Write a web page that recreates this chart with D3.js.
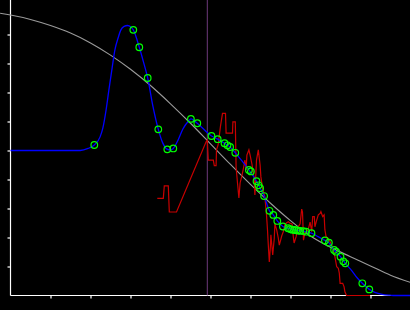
<!DOCTYPE html>
<html>
<head>
<meta charset="utf-8">
<script src="https://cdn.jsdelivr.net/npm/d3@7"></script>
<style>
  body { margin: 0; background: #000; }
  svg { display: block; }
</style>
</head>
<body>
<div id="chart"></div>
<script>
// values (no labels, so units are tick steps)
const xTicks = [1, 2, 3, 4, 5, 6, 7, 8, 9]
const yTicks = [1, 2, 3, 4, 5, 6, 7, 8, 9]

const cursorX = 4.92

// smooth grey fit
const fitX = [-0.26, 0, 0.5, 1, 1.5, 2, 2.5, 3, 3.5, 4, 4.5, 5, 5.5, 6, 6.5, 7, 7.5, 8, 8.5, 9, 9.5, 10]
const fitY = [9.73, 9.67, 9.52, 9.31, 9.05, 8.71, 8.29, 7.80, 7.24, 6.61, 5.94, 5.23, 4.52, 3.83, 3.18, 2.58, 2.05, 1.66, 1.34, 1.02, 0.70, 0.45]

// blue interpolated line
const blueX = [0, 1.74, 1.94, 2.095, 2.24, 2.31, 2.39, 2.46, 2.54, 2.61, 2.69, 2.76, 2.84, 2.925, 3.01,
  3.07, 3.22, 3.325, 3.43, 3.56, 3.695, 3.80, 3.91, 4.00, 4.07, 4.19, 4.31, 4.44, 4.51, 4.59,
  4.67, 5.025, 5.18, 5.36, 5.49, 5.62, 5.96, 6.15, 6.24, 6.34, 6.475, 6.57, 6.67, 6.81, 6.94,
  7.14, 7.39, 7.525, 7.69, 7.86, 7.96, 8.09, 8.25, 8.37, 8.54, 8.66, 8.795, 8.97, 9.11, 9.29,
  9.49, 9.61, 10]
const blueY = [5.0, 5.0, 5.07, 5.19, 5.47, 5.78, 6.40, 7.09, 7.84, 8.47, 8.88, 9.16, 9.28, 9.31, 9.26,
  9.16, 8.56, 8.05, 7.50, 6.53, 5.73, 5.28, 5.05, 5.02, 5.07, 5.36, 5.74, 6.00, 6.09, 6.03,
  5.94, 5.50, 5.39, 5.24, 5.12, 4.92, 4.33, 3.94, 3.70, 3.43, 2.92, 2.78, 2.57, 2.38, 2.32,
  2.25, 2.20, 2.15, 2.03, 1.90, 1.82, 1.57, 1.34, 1.11, 0.84, 0.62, 0.42, 0.21, 0.11, 0.04,
  0.01, 0, 0]

// red raw signal
const redX = [3.67, 3.82, 3.845, 3.945, 3.97, 4.15, 4.89, 4.92, 4.945, 5.07, 5.095, 5.14, 5.15, 5.19, 5.25,
  5.30, 5.375, 5.39, 5.55, 5.56, 5.62, 5.64, 5.675, 5.71, 5.74, 5.79, 5.84, 5.86, 5.89, 5.91,
  5.96, 5.99, 6.04, 6.09, 6.11, 6.15, 6.195, 6.24, 6.26, 6.31, 6.36, 6.40, 6.425, 6.445, 6.47,
  6.495, 6.51, 6.555, 6.595, 6.61, 6.655, 6.695, 6.72, 6.78, 6.82, 6.86, 6.905, 6.945, 6.99, 7.04,
  7.07, 7.09, 7.14, 7.195, 7.24, 7.28, 7.30, 7.325, 7.36, 7.44, 7.49, 7.53, 7.555, 7.595, 7.61,
  7.655, 7.695, 7.74, 7.76, 7.805, 7.84, 7.86, 7.89, 7.945, 7.97, 8.045, 8.11, 8.155, 8.195, 8.22,
  8.24, 8.305, 8.34, 8.36, 8.40, 8.99]
const redY = [3.35, 3.35, 3.78, 3.78, 2.88, 2.88, 5.30, 5.36, 4.67, 4.67, 4.48, 4.48, 5.02, 5.19, 5.84,
  6.28, 6.28, 5.60, 5.60, 5.99, 5.99, 4.43, 3.88, 3.36, 3.88, 4.16, 4.50, 4.67, 4.33, 4.84,
  5.02, 4.84, 4.50, 4.05, 3.47, 4.67, 5.02, 4.50, 4.09, 3.64, 3.40, 2.78, 2.26, 1.74, 1.16,
  1.64, 2.09, 1.40, 1.98, 2.47, 2.26, 1.98, 1.74, 2.05, 2.20, 2.43, 2.51, 2.54, 2.49, 2.47,
  2.03, 1.81, 2.03, 2.37, 2.47, 2.98, 2.88, 1.91, 2.16, 2.26, 2.53, 2.20, 2.72, 2.72, 2.37,
  2.60, 2.78, 2.83, 2.89, 2.72, 2.78, 2.26, 2.03, 1.97, 1.91, 1.68, 1.34, 0.99, 0.94, 0.77,
  0.42, 0.42, 0.30, 0.13, 0, 0]

// green sample markers
const markX = [2.095, 3.07, 3.22, 3.43, 3.695, 3.92, 4.07, 4.51, 4.67, 5.025, 5.18, 5.35, 5.425, 5.49, 5.62,
  5.96, 6.01, 6.15, 6.20, 6.24, 6.34, 6.475, 6.57, 6.67, 6.81, 6.94, 6.99, 7.04, 7.09, 7.14,
  7.19, 7.24, 7.32, 7.39, 7.525, 7.86, 7.96, 8.09, 8.14, 8.25, 8.32, 8.37, 8.795, 8.97]
const markY = [5.19, 9.16, 8.56, 7.50, 5.73, 5.04, 5.07, 6.09, 5.94, 5.50, 5.39, 5.25, 5.18, 5.12, 4.92,
  4.33, 4.28, 3.94, 3.80, 3.70, 3.43, 2.92, 2.78, 2.57, 2.38, 2.32, 2.29, 2.27, 2.26, 2.25,
  2.24, 2.23, 2.22, 2.20, 2.15, 1.90, 1.82, 1.57, 1.51, 1.34, 1.18, 1.11, 0.42, 0.21]

let svgWidth = 410
let svgHeight = 310

const svg = d3.select("#chart").append("svg")
    .attr("width", svgWidth)
    .attr("height", svgHeight)
    .style("background", "#000")

const x = d3.scaleLinear().domain([0, 10]).range([10.5, 410.5])
const y = d3.scaleLinear().domain([0, 10]).range([295.5, 5.5])

// axes
const yAxis = svg.append("g")
    .attr("transform", "translate(10.5,0)")
    .call(d3.axisLeft(y).tickValues(yTicks).tickSize(3).tickSizeOuter(0).tickFormat(""))
yAxis.select(".domain").attr("d", "M0,0V295.5")

const xAxis = svg.append("g")
    .attr("transform", "translate(0,295.5)")
    .call(d3.axisBottom(x).tickValues(xTicks).tickSize(3).tickSizeOuter(0).tickFormat(""))
xAxis.select(".domain").attr("d", "M10.5,0H410")

svg.selectAll(".domain, .tick line")
    .attr("stroke", "#fff")
    .attr("stroke-width", 1.2)

// vertical cursor
svg.append("line")
    .attr("x1", x(cursorX)).attr("x2", x(cursorX))
    .attr("y1", 0).attr("y2", y(0))
    .attr("stroke", "#6e3a7c")
    .attr("stroke-width", 1)

const smooth = d3.line()
    .x(d => x(d[0]))
    .y(d => y(d[1]))
    .curve(d3.curveMonotoneX)

const straight = d3.line()
    .x(d => x(d[0]))
    .y(d => y(d[1]))

svg.append("path")
    .datum(d3.zip(fitX, fitY))
    .attr("d", smooth)
    .attr("fill", "none")
    .attr("stroke", "#9a9a9a")
    .attr("stroke-width", 1.1)

svg.append("path")
    .datum(d3.zip(redX, redY))
    .attr("d", straight)
    .attr("fill", "none")
    .attr("stroke", "#c80000")
    .attr("stroke-width", 1.2)

svg.append("path")
    .datum(d3.zip(blueX, blueY))
    .attr("d", smooth)
    .attr("fill", "none")
    .attr("stroke", "#0000ff")
    .attr("stroke-width", 1.3)

svg.append("g")
    .selectAll("circle")
    .data(d3.zip(markX, markY))
    .enter()
    .append("circle")
    .attr("cx", d => x(d[0]))
    .attr("cy", d => y(d[1]))
    .attr("r", 3.3)
    .attr("fill", "none")
    .attr("stroke", "#00ff00")
    .attr("stroke-width", 1.2)
</script>
</body>
</html>
